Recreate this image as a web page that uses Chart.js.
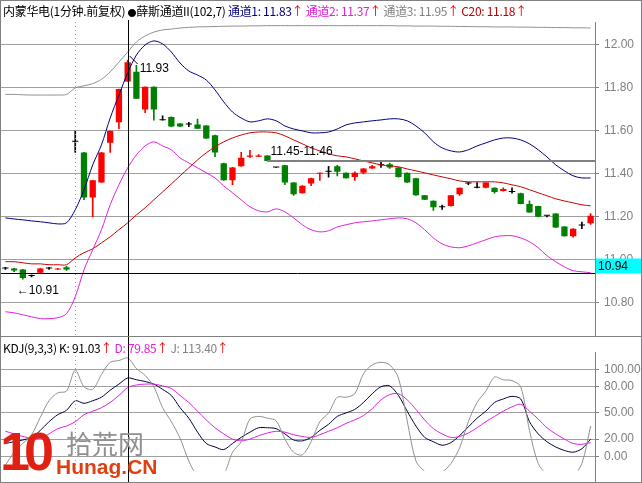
<!DOCTYPE html>
<html><head><meta charset="utf-8">
<script src="https://cdn.jsdelivr.net/npm/chart.js@4"></script>
<style>
body{margin:0;background:#fff;width:642px;height:483px;overflow:hidden;position:relative;font-family:"Noto Sans CJK SC",sans-serif}
#c1{position:absolute;left:0;top:0}
#c2{position:absolute;left:0;top:336px}
.frame{position:absolute;left:0;top:0;width:640px;height:481px;border:1px solid #808080;pointer-events:none}
.sep{position:absolute;left:0;top:336px;width:642px;height:1px;background:#808080}
.hdr{position:absolute;left:3px;font-size:12px;white-space:nowrap;letter-spacing:-0.3px}
.ar{color:#e00000}
.wm{position:absolute;font-weight:bold}
</style></head><body>
<canvas id="c1" width="642" height="336"></canvas>
<canvas id="c2" width="642" height="147"></canvas>
<div class="frame"></div><div class="sep"></div>
<div class="hdr" style="top:2px"><span style="color:#000">内蒙华电(1分钟.前复权)</span> <span style="color:#000"><span style="font-size:9px">●</span>薛斯通道II(102,7)</span> <span style="color:#000080">通道1: 11.83</span><span class="ar">↑</span> <span style="color:#e020e0">通道2: 11.37</span><span class="ar">↑</span> <span style="color:#808080">通道3: 11.95</span><span class="ar">↑</span> <span style="color:#c00000">C20: 11.18</span><span class="ar">↑</span></div>
<div class="hdr" style="top:339px"><span style="color:#000">KDJ(9,3,3)</span> <span style="color:#000">K: 91.03</span><span class="ar">↑</span> <span style="color:#e020e0">D: 79.85</span><span class="ar">↑</span> <span style="color:#808080">J: 113.40</span><span class="ar">↑</span></div>
<div class="wm" style="left:0;top:420px;font-size:54px;color:#e02010;letter-spacing:-6px;font-family:'Liberation Sans'">10</div>
<div class="wm" style="left:66px;top:424px;font-size:26px;color:#909090;font-weight:normal">拾荒网</div>
<div class="wm" style="left:56px;top:455px;font-size:21px;color:#e04010;font-family:'Liberation Sans'">Hunag.CN</div>
<script>
const opens=[10.96,10.96,10.955,10.925,10.94,10.96,10.955,10.965,11.55,11.50,11.29,11.36,11.545,11.64,11.83,11.875,11.70,11.805,11.65,11.665,11.635,11.63,11.63,11.625,11.58,11.45,11.37,11.435,11.48,11.48,11.485,11.43,11.44,11.36,11.31,11.355,11.40,11.41,11.435,11.405,11.385,11.405,11.425,11.44,11.445,11.43,11.405,11.38,11.30,11.275,11.245,11.25,11.305,11.355,11.335,11.335,11.335,11.32,11.315,11.31,11.26,11.25,11.205,11.215,11.155,11.11,11.16,11.17];
const closes=[10.96,10.95,10.915,10.925,10.96,10.96,10.96,10.955,11.55,11.29,11.37,11.50,11.60,11.795,11.92,11.75,11.805,11.70,11.65,11.62,11.62,11.63,11.61,11.565,11.50,11.37,11.43,11.475,11.485,11.485,11.46,11.43,11.36,11.305,11.345,11.38,11.405,11.41,11.41,11.38,11.405,11.425,11.435,11.44,11.43,11.385,11.36,11.30,11.28,11.245,11.245,11.30,11.335,11.355,11.335,11.36,11.315,11.33,11.315,11.26,11.22,11.20,11.205,11.15,11.11,11.145,11.16,11.205];
const highs=[10.965,10.96,10.955,10.93,10.96,10.965,10.96,10.97,11.60,11.50,11.37,11.50,11.60,11.795,11.93,11.905,11.805,11.805,11.67,11.665,11.635,11.64,11.655,11.625,11.58,11.45,11.43,11.50,11.51,11.49,11.485,11.43,11.44,11.36,11.345,11.38,11.405,11.435,11.44,11.405,11.41,11.425,11.44,11.455,11.45,11.43,11.405,11.38,11.30,11.275,11.255,11.30,11.335,11.36,11.36,11.36,11.335,11.335,11.335,11.31,11.275,11.25,11.205,11.215,11.155,11.145,11.175,11.215];
const lows=[10.955,10.945,10.91,10.92,10.94,10.955,10.955,10.95,11.50,11.28,11.20,11.36,11.50,11.61,11.83,11.75,11.685,11.65,11.65,11.62,11.62,11.62,11.61,11.565,11.48,11.37,11.35,11.435,11.475,11.48,11.46,11.43,11.35,11.30,11.31,11.345,11.37,11.385,11.39,11.38,11.37,11.40,11.425,11.43,11.425,11.385,11.36,11.30,11.28,11.23,11.235,11.25,11.30,11.35,11.335,11.335,11.31,11.32,11.31,11.26,11.22,11.20,11.20,11.15,11.11,11.105,11.145,11.165];
const chan1=[11.195,11.19,11.186,11.181,11.177,11.172,11.167,11.172,11.233,11.326,11.442,11.535,11.66,11.767,11.87,11.953,12.0,12.019,12.005,11.967,11.916,11.879,11.86,11.837,11.791,11.735,11.688,11.66,11.642,11.647,11.656,11.647,11.623,11.609,11.6,11.591,11.591,11.595,11.609,11.628,11.637,11.642,11.647,11.651,11.656,11.656,11.647,11.623,11.591,11.549,11.521,11.507,11.502,11.512,11.53,11.544,11.558,11.567,11.567,11.558,11.54,11.512,11.479,11.442,11.414,11.391,11.381,11.381];
const chan2=[10.758,10.753,10.744,10.735,10.726,10.726,10.73,10.749,10.828,10.953,11.047,11.14,11.256,11.349,11.428,11.488,11.53,11.549,11.53,11.512,11.474,11.451,11.428,11.405,11.381,11.344,11.312,11.279,11.247,11.228,11.223,11.237,11.223,11.195,11.163,11.14,11.13,11.135,11.153,11.163,11.172,11.177,11.181,11.186,11.191,11.195,11.191,11.172,11.14,11.102,11.074,11.06,11.056,11.065,11.079,11.093,11.107,11.112,11.112,11.102,11.084,11.056,11.019,10.991,10.967,10.949,10.944,10.94];
const chan3=[11.77,11.77,11.768,11.767,11.767,11.767,11.767,11.77,11.80,11.81,11.82,11.84,11.875,11.92,11.967,12.014,12.042,12.06,12.07,12.074,12.079,12.082,12.084,12.085,12.086,12.087,12.088,12.088,12.089,12.089,12.09,12.09,12.09,12.09,12.09,12.09,12.09,12.09,12.09,12.09,12.09,12.09,12.09,12.09,12.09,12.089,12.089,12.088,12.088,12.088,12.087,12.087,12.086,12.086,12.085,12.085,12.084,12.084,12.084,12.083,12.083,12.082,12.082,12.081,12.081,12.08,12.08,12.079];
const c20=[10.991,10.991,10.986,10.981,10.981,10.977,10.977,10.977,11.009,11.033,11.051,11.079,11.107,11.14,11.172,11.209,11.242,11.279,11.316,11.353,11.391,11.428,11.465,11.498,11.526,11.549,11.567,11.581,11.591,11.595,11.595,11.591,11.577,11.558,11.54,11.521,11.507,11.493,11.484,11.479,11.47,11.46,11.451,11.442,11.437,11.433,11.423,11.414,11.405,11.395,11.386,11.377,11.367,11.363,11.363,11.363,11.363,11.358,11.349,11.34,11.326,11.312,11.298,11.284,11.274,11.265,11.256,11.251];
const kVals=[15,17,19,22,30,40,48,53,64,61,64,68,76,83,90,88,86,83,77,70,56,44,28,15,11,8,15,22,28,33,33,32,26,19,18,22,30,37,46,50,54,62,72,80,81,70,52,35,22,17,13,16,24,34,44,52,62,66,69,66,40,26,17,11,7,5,9,20];
const dVals=[29,26,23,21,21,26,32,35,40,48,52,56,62,70,79,82,83,83,81,78,70,62,52,42,33,26,20,18,20,24,27,29,28,25,23,22,25,29,33,38,42,47,55,65,71,72,65,54,42,32,26,22,23,27,33,40,46,52,57,60,52,43,33,26,20,15,14,16];
const jVals=[-10,5,15,25,45,64,73,75,99,80,77,94,108,110,113,101,93,80,56,40,21,-5,-22,-20,-20,-20,5,17,43,46,44,41,20,5,2,17,40,50,68,68,72,95,105,108,105,90,41,-5,-17,-23,-18,-8,10,40,62,75,91,88,87,80,30,-8,-20,-22,-22,-22,-8,35];
const priceTicks=[10.8,11.0,11.2,11.4,11.6,11.8,12.0];
const kdjTicks=[0,20,50,80,100];
const labels=opens.map((_,i)=>i);
const crossIdx=14, gridIdx=8, lastPrice=10.94, levelPrice=11.46, levelStart=30;

const bodyCol=opens.map((o,i)=>closes[i]>o?'#ff0000':closes[i]<o?'#008000':'#000000');
const wickCol=bodyCol;

function fitAxis(s){s.width=47;}
const gridStyle={color:'#a0a0a0',borderDash:[1,3],tickLength:4,drawTicks:true,tickColor:'#808080'};

const overlay1={id:'ov1',afterDatasetsDraw(ch){
 const c=ch.ctx,x=ch.scales.x,y=ch.scales.y,a=ch.chartArea;
 c.save();
 c.strokeStyle='#a0a0a0';c.setLineDash([1,3]);c.lineWidth=1;
 const gx=Math.round(x.getPixelForValue(gridIdx))+0.5;
 c.beginPath();c.moveTo(gx,a.top);c.lineTo(gx,336);c.stroke();
 c.setLineDash([]);
 c.strokeStyle='#808080';c.beginPath();c.moveTo(a.right+0.5,a.bottom);c.lineTo(a.right+0.5,336);c.stroke();
 c.strokeStyle='#808080';c.lineWidth=2;
 const ly=y.getPixelForValue(levelPrice);
 c.beginPath();c.moveTo(x.getPixelForValue(levelStart),ly);c.lineTo(a.right,ly);c.stroke();
 c.strokeStyle='#000';c.lineWidth=1;
 const py=Math.round(y.getPixelForValue(lastPrice))+0.5;
 c.beginPath();c.moveTo(0,py);c.lineTo(a.right,py);c.stroke();
 const cx=Math.round(x.getPixelForValue(crossIdx))+0.5;
 c.beginPath();c.moveTo(cx,20);c.lineTo(cx,336);c.stroke();
 c.font='12px "Liberation Sans"';c.fillStyle='#000';c.textBaseline='middle';
 const hx=x.getPixelForValue(crossIdx),hy=y.getPixelForValue(highs[crossIdx]);
 c.beginPath();c.moveTo(hx+2,hy-4);c.lineTo(hx+10,hy+4);c.stroke();
 c.fillText('11.93',hx+12,hy+9);
 const lx=x.getPixelForValue(2),lyy=y.getPixelForValue(lows[2]);
 c.fillText('←10.91',lx-6,lyy+12);
 c.fillText('11.45-11.46',x.getPixelForValue(levelStart)+3,ly-9);
 c.fillStyle='#00ffff';c.fillRect(a.right+1,py-15,46,15);
 c.fillStyle='#000';c.fillText('10.94',a.right+3,py-7);
 c.restore();
}};
const overlay2={id:'ov2',afterDatasetsDraw(ch){
 const c=ch.ctx,x=ch.scales.x,a=ch.chartArea;
 c.save();
 c.strokeStyle='#a0a0a0';c.setLineDash([1,3]);
 const gx=Math.round(x.getPixelForValue(gridIdx))+0.5;
 c.beginPath();c.moveTo(gx,a.top);c.lineTo(gx,a.bottom);c.stroke();
 c.setLineDash([]);c.strokeStyle='#808080';c.beginPath();c.moveTo(a.right+0.5,a.bottom);c.lineTo(a.right+0.5,147);c.stroke();
 c.strokeStyle='#000';
 const cx=Math.round(x.getPixelForValue(crossIdx))+0.5;
 c.beginPath();c.moveTo(cx,0);c.lineTo(cx,147);c.stroke();
 c.restore();
}};
const line=(d,col)=>({type:'line',data:d,borderColor:col,borderWidth:1,pointRadius:0,tension:0.3,order:0});

new Chart(document.getElementById('c1'),{
 data:{labels,datasets:[
  line(chan3,'#909090'),line(chan1,'#000080'),line(chan2,'#e020e0'),line(c20,'#cc0000'),
  {type:'bar',data:opens.map((o,i)=>[lows[i],highs[i]]),backgroundColor:wickCol,barThickness:1,grouped:false,order:2},
  {type:'bar',data:opens.map((o,i)=>[o,closes[i]]),backgroundColor:bodyCol,barPercentage:0.72,categoryPercentage:1,minBarLength:1,grouped:false,order:1}
 ]},
 options:{responsive:false,animation:false,events:[],layout:{padding:{top:22,left:1,right:0,bottom:0}},
  plugins:{legend:{display:false},tooltip:{enabled:false}},
  scales:{x:{display:false,offset:true},
   y:{position:'right',min:10.702,max:12.107,afterFit:fitAxis,
    afterBuildTicks(s){s.ticks=priceTicks.map(v=>({value:v}));},
    grid:gridStyle,border:{color:'#808080'},
    ticks:{color:'#808080',font:{family:'Liberation Sans',size:12},padding:5,callback:v=>v.toFixed(2)}}}},
 plugins:[overlay1]
});
new Chart(document.getElementById('c2'),{
 data:{labels,datasets:[line(jVals,'#909090'),line(dVals,'#e020e0'),line(kVals,'#000040')]},
 options:{responsive:false,animation:false,events:[],layout:{padding:{top:16,left:1,right:0,bottom:5}},
  plugins:{legend:{display:false},tooltip:{enabled:false}},
  scales:{x:{display:false,offset:true},
   y:{position:'right',min:-16.3,max:119.8,afterFit:fitAxis,
    afterBuildTicks(s){s.ticks=kdjTicks.map(v=>({value:v}));},
    grid:gridStyle,border:{color:'#808080'},
    ticks:{color:'#808080',font:{family:'Liberation Sans',size:12},padding:5,callback:v=>v.toFixed(2)}}}},
 plugins:[overlay2]
});
</script></body></html>
